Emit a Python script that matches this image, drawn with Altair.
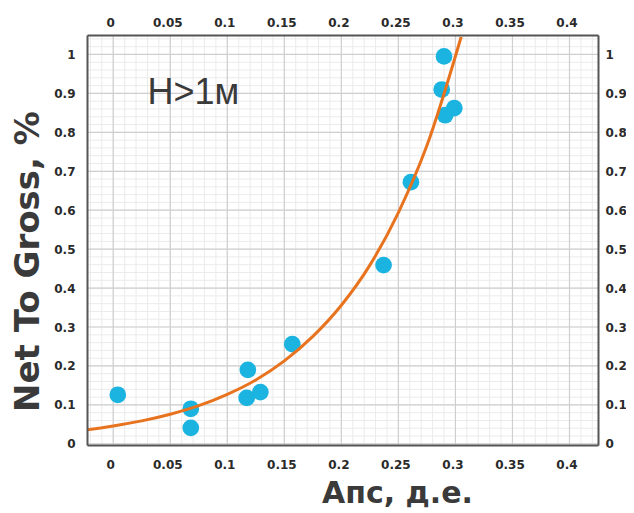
import altair as alt
import pandas as pd

# Scatter points (Апс, Net To Gross)
pt_x = [0.004, 0.068, 0.068, 0.118, 0.117, 0.129, 0.157, 0.237, 0.261, 0.290, 0.288, 0.299, 0.291]
pt_y = [0.126, 0.090, 0.041, 0.190, 0.118, 0.133, 0.256, 0.459, 0.672, 0.995, 0.910, 0.862, 0.844]

# Trend curve
cv_x = [-0.023, 0.0, 0.025, 0.05, 0.075, 0.1, 0.125, 0.15, 0.175, 0.2, 0.225, 0.25, 0.275, 0.305]
cv_y = [0.036, 0.046, 0.059, 0.076, 0.098, 0.127, 0.164, 0.213, 0.276, 0.356, 0.459, 0.594, 0.766, 1.045]

# Tick values
x_ticks = [0, 0.05, 0.1, 0.15, 0.2, 0.25, 0.3, 0.35, 0.4]
y_ticks = [0, 0.1, 0.2, 0.3, 0.4, 0.5, 0.6, 0.7, 0.8, 0.9, 1.0]
x_minor = [round(i * 0.01, 2) for i in range(-2, 43)]
y_minor = [round(i * 0.02, 2) for i in range(0, 53)]

ann_x = [0.030]
ann_y = [0.872]
ann_t = ["H>1м"]

pts = pd.DataFrame({"x": pt_x, "y": pt_y})
cv = pd.DataFrame({"x": cv_x, "y": cv_y})
gx = pd.DataFrame({"x": x_ticks})
gy = pd.DataFrame({"y": y_ticks})
mx = pd.DataFrame({"x": x_minor})
my = pd.DataFrame({"y": y_minor})
ann = pd.DataFrame({"x": ann_x, "y": ann_y, "t": ann_t})

xs = alt.Scale(domain=[-0.023, 0.425], nice=False, zero=False)
ys = alt.Scale(domain=[-0.003, 1.05], nice=False, zero=False)

LBL = dict(labelFont="DejaVu Sans", labelFontWeight="bold", labelFontSize=12,
           labelColor="#2a2a2a", ticks=False, tickSize=0, grid=False,
           domain=True, domainColor="#555555", domainWidth=2, zindex=1,
           format="~g")

minor_v = alt.Chart(mx).mark_rule(color="#ebebeb", strokeWidth=1).encode(
    x=alt.X("x:Q", scale=xs, axis=None))
minor_h = alt.Chart(my).mark_rule(color="#ebebeb", strokeWidth=1).encode(
    y=alt.Y("y:Q", scale=ys, axis=None))
major_v = alt.Chart(gx).mark_rule(color="#cfcfcf", strokeWidth=1.2).encode(
    x=alt.X("x:Q", scale=xs, axis=None))
major_h = alt.Chart(gy).mark_rule(color="#cfcfcf", strokeWidth=1.2).encode(
    y=alt.Y("y:Q", scale=ys, axis=None))

points = alt.Chart(pts).mark_circle(size=280, color="#1bb4e0", opacity=1).encode(
    x=alt.X("x:Q", scale=xs, axis=alt.Axis(
        orient="bottom", values=x_ticks, labelPadding=14, labelOffset=-3,
        title="Апс, д.е.", titleFont="DejaVu Sans", titleFontWeight="bold",
        titleFontSize=30, titleColor="#3a3a3a", titleX=310, titleY=57,
        titleAlign="center", titleBaseline="alphabetic", **LBL)),
    y=alt.Y("y:Q", scale=ys, axis=alt.Axis(
        orient="left", values=y_ticks, labelPadding=12,
        title="Net To Gross, %", titleFont="DejaVu Sans", titleFontWeight="bold",
        titleFontSize=34, titleColor="#3a3a3a", titleX=-49, titleY=226,
        titleAngle=270, titleAlign="center", titleBaseline="alphabetic", **LBL)),
)

curve = alt.Chart(cv).mark_line(color="#e8731f", strokeWidth=3, interpolate="monotone", clip=True).encode(
    x=alt.X("x:Q", scale=xs, axis=alt.Axis(orient="top", values=x_ticks, labelPadding=6,
                                           labelOffset=-3, title=None, **LBL)),
    y=alt.Y("y:Q", scale=ys, axis=alt.Axis(orient="right", values=y_ticks, labelPadding=7,
                                           title=None, **LBL)),
)

label = alt.Chart(ann).mark_text(align="left", baseline="alphabetic", font="Liberation Sans",
                                 fontSize=36, color="#3a3a3a").encode(
    x=alt.X("x:Q", scale=xs, axis=None),
    y=alt.Y("y:Q", scale=ys, axis=None),
    text="t:N")

chart = alt.layer(minor_v, minor_h, major_v, major_h, points, curve, label).resolve_axis(
    x="independent", y="independent"
).properties(
    width=511, height=410,
    autosize=alt.AutoSizeParams(type="none"),
    padding={"left": 79, "top": 27, "right": 28, "bottom": 66},
    background="white",
).configure_view(stroke=None)

chart.save("out.html", embed_options={"renderer": "svg", "actions": False})
